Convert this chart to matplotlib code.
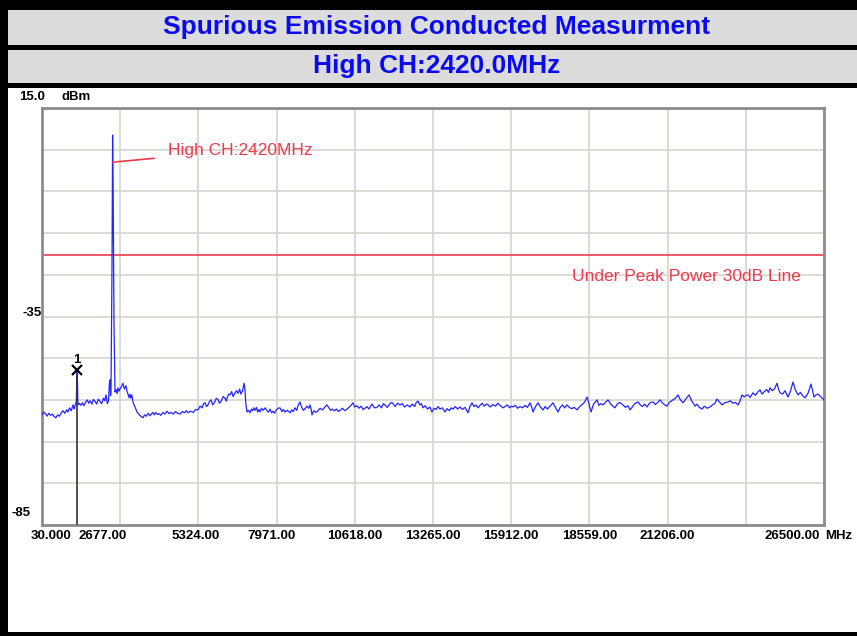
import matplotlib.pyplot as plt
from matplotlib.patches import Rectangle

W, H = 857, 636

# spectrum trace: (MHz, dBm)
trace_points = [
    (30, -58.6), (90, -57.9), (150, -58.3), (200, -58.9), (260, -58.2), (320, -58.7), (380, -58.4),
    (440, -59.0), (500, -59.3), (560, -58.6), (620, -58.9), (680, -58.1), (740, -57.6), (800, -58.2),
    (860, -57.4), (910, -57.9), (960, -56.9), (1020, -57.6), (1079, -56.2), (1120, -57.2),
    (1160, -56.0), (1190, -55.5), (1215, -47.8), (1235, -51.5), (1245, -56.2), (1290, -55.8),
    (1340, -56.3), (1400, -55.7), (1450, -56.4), (1500, -55.6), (1560, -55.0), (1610, -55.8),
    (1655, -55.2), (1720, -56.0), (1770, -54.9), (1824, -55.3), (1880, -56.0), (1940, -54.8),
    (1993, -55.4), (2050, -55.9), (2110, -54.6), (2150, -55.2), (2196, -53.8), (2240, -55.9),
    (2280, -55.2), (2310, -51.2), (2332, -50.2), (2350, -54.0), (2366, -52.8), (2400, -22.6),
    (2420, 8.5), (2440, -6.6), (2467, -36.6), (2501, -53.1), (2535, -52.5), (2570, -53.5),
    (2600, -52.1), (2640, -52.9), (2670, -52.4), (2720, -51.8), (2772, -51.0), (2820, -52.4),
    (2873, -51.6), (2910, -53.0), (2940, -53.6), (2975, -54.5), (3009, -53.6), (3040, -54.6),
    (3070, -53.8), (3120, -55.8), (3178, -56.7), (3240, -57.8), (3300, -58.4), (3370, -58.9),
    (3449, -59.3), (3500, -58.6), (3560, -58.9), (3620, -58.2), (3686, -58.8), (3740, -58.3),
    (3780, -58.0), (3830, -58.6), (3880, -58.0), (3940, -58.5), (3990, -58.3), (4050, -58.7),
    (4126, -58.0), (4190, -58.4), (4260, -57.7), (4330, -58.3), (4397, -58.0), (4470, -58.4),
    (4550, -57.8), (4620, -58.2), (4701, -58.4), (4780, -57.8), (4850, -58.1), (4910, -57.6),
    (4972, -58.1), (5050, -57.7), (5150, -58.0), (5230, -57.3), (5311, -57.4), (5380, -56.5),
    (5450, -56.9), (5500, -55.9), (5548, -55.7), (5600, -56.6), (5650, -56.2), (5700, -55.4),
    (5751, -55.0), (5810, -56.2), (5870, -55.6), (5930, -54.6), (5988, -54.9), (6040, -55.8),
    (6100, -55.2), (6160, -54.2), (6225, -54.6), (6270, -55.3), (6300, -54.4), (6350, -53.6),
    (6394, -53.8), (6450, -53.0), (6500, -54.2), (6550, -53.5), (6610, -52.8), (6665, -53.4),
    (6720, -52.4), (6760, -53.6), (6820, -52.8), (6870, -51.0), (6900, -52.5), (6930, -56.0),
    (6969, -57.9), (7020, -57.5), (7071, -58.1), (7120, -57.2), (7160, -57.6), (7200, -56.9),
    (7240, -57.5), (7290, -56.8), (7330, -57.9), (7370, -57.3), (7409, -57.9), (7460, -57.0),
    (7520, -57.5), (7580, -56.9), (7646, -57.6), (7700, -57.9), (7750, -57.2), (7800, -58.1),
    (7849, -57.7), (7900, -58.2), (7960, -57.4), (8020, -57.0), (8086, -56.9), (8150, -57.8),
    (8200, -57.3), (8250, -57.9), (8330, -57.5), (8425, -58.1), (8480, -57.4), (8530, -57.8),
    (8594, -56.9), (8650, -57.5), (8700, -56.3), (8763, -55.5), (8820, -56.8), (8880, -57.5),
    (8933, -57.1), (9000, -56.5), (9060, -57.0), (9102, -56.2), (9140, -57.3), (9170, -58.6),
    (9230, -57.6), (9300, -58.0), (9373, -57.6), (9440, -57.0), (9520, -57.4), (9600, -56.8),
    (9677, -56.2), (9740, -56.9), (9800, -57.5), (9847, -57.2), (9920, -57.6), (10000, -57.2),
    (10060, -57.8), (10117, -57.5), (10200, -57.0), (10280, -57.6), (10354, -57.2), (10420, -56.8),
    (10500, -56.2), (10557, -55.7), (10620, -56.7), (10693, -56.4), (10760, -57.0), (10830, -56.5),
    (10900, -57.3), (10964, -57.0), (11030, -56.6), (11100, -57.2), (11150, -56.5), (11201, -56.0),
    (11280, -56.9), (11370, -56.8), (11440, -56.2), (11520, -56.9), (11580, -55.9), (11641, -56.2),
    (11720, -56.8), (11800, -56.0), (11860, -55.6), (11911, -55.9), (11980, -56.6), (12060, -55.8),
    (12148, -56.2), (12220, -55.9), (12300, -56.7), (12390, -56.2), (12487, -56.7), (12560, -56.0),
    (12640, -56.6), (12700, -55.6), (12758, -55.3), (12820, -56.2), (12870, -55.9), (12927, -56.9),
    (13000, -56.4), (13080, -57.2), (13160, -56.7), (13232, -57.9), (13300, -57.0), (13370, -57.3),
    (13435, -56.6), (13500, -57.2), (13580, -56.9), (13672, -57.9), (13740, -57.1), (13820, -57.6),
    (13880, -56.9), (13943, -57.2), (14020, -56.6), (14100, -57.2), (14179, -56.7), (14260, -57.3),
    (14350, -56.8), (14450, -58.1), (14520, -56.5), (14586, -55.7), (14650, -56.6), (14720, -56.2),
    (14790, -56.9), (14856, -56.3), (14930, -55.8), (15000, -56.5), (15070, -56.0), (15127, -56.2),
    (15200, -56.7), (15290, -56.1), (15380, -56.5), (15466, -55.8), (15550, -56.4), (15630, -56.9),
    (15703, -56.6), (15780, -56.2), (15860, -56.9), (15920, -56.5), (15973, -56.7), (16050, -56.3),
    (16130, -57.0), (16211, -56.6), (16300, -56.9), (16380, -56.3), (16460, -56.8), (16549, -55.7),
    (16600, -56.6), (16651, -57.9), (16720, -56.8), (16820, -55.7), (16900, -56.7), (16989, -57.4),
    (17060, -56.6), (17140, -57.2), (17230, -56.5), (17328, -55.7), (17400, -56.7), (17497, -57.9),
    (17570, -56.8), (17650, -56.2), (17720, -56.9), (17802, -56.2), (17880, -56.8), (17960, -57.1),
    (18050, -56.8), (18140, -57.4), (18230, -56.6), (18330, -56.0), (18400, -55.5), (18479, -54.3),
    (18540, -55.8), (18614, -57.9), (18700, -56.0), (18760, -55.5), (18817, -55.0), (18880, -56.3),
    (18950, -55.9), (19020, -56.2), (19100, -55.6), (19189, -55.0), (19260, -55.8), (19340, -56.4),
    (19426, -56.9), (19500, -56.0), (19580, -55.6), (19697, -56.2), (19780, -56.8), (19860, -56.4),
    (19934, -57.4), (20000, -56.8), (20080, -56.0), (20140, -55.7), (20205, -55.5), (20280, -56.2),
    (20360, -56.6), (20430, -56.0), (20509, -56.7), (20580, -55.9), (20640, -55.6), (20712, -55.5),
    (20790, -56.1), (20870, -55.6), (20949, -55.0), (21030, -55.7), (21110, -56.2), (21186, -56.5),
    (21260, -55.6), (21330, -55.3), (21389, -55.0), (21470, -54.6), (21559, -53.8), (21640, -55.0),
    (21728, -55.7), (21820, -54.8), (21931, -53.8), (22020, -55.2), (22134, -56.5), (22200, -56.0),
    (22280, -56.8), (22371, -57.2), (22450, -56.5), (22540, -57.0), (22642, -56.7), (22720, -56.2),
    (22800, -55.9), (22879, -54.8), (22960, -55.5), (23048, -56.2), (23140, -55.7), (23251, -55.5),
    (23330, -55.2), (23420, -55.8), (23500, -55.6), (23590, -56.2), (23650, -55.4), (23725, -53.8),
    (23800, -54.3), (23860, -53.9), (23928, -53.8), (24000, -54.4), (24097, -53.3), (24180, -53.9),
    (24260, -53.1), (24334, -52.6), (24402, -53.6), (24480, -53.0), (24560, -52.5), (24620, -53.2),
    (24673, -52.1), (24750, -52.8), (24830, -52.3), (24910, -51.0), (24960, -52.4), (25011, -53.3),
    (25100, -53.6), (25180, -52.8), (25282, -54.3), (25360, -53.0), (25451, -50.7), (25530, -52.6),
    (25621, -53.8), (25700, -53.2), (25780, -54.0), (25858, -54.5), (25960, -53.4), (26061, -51.2),
    (26120, -53.0), (26162, -54.3), (26230, -53.8), (26298, -53.6), (26400, -54.3), (26500, -55.0),
]
freq_mhz = [p[0] for p in trace_points]
level_dbm = [p[1] for p in trace_points]

marker_freq = 1215
marker_level = -47.8
limit_level = -20.3          # under peak power 30dB line
peak_freq = 2420
peak_level = 2.0

x_ticks = [30, 2677, 5324, 7971, 10618, 13265, 15912, 18559, 21206, 23853, 26500]
x_tick_labels = ['30.000', '2677.00', '5324.00', '7971.00', '10618.00', '13265.00',
                 '15912.00', '18559.00', '21206.00', '', '26500.00']
x_label_shift = [9, -18, -3, -5, 0, 0, 0, 0, 0, 0, -32]
y_ticks = [15, 5, -5, -15, -25, -35, -45, -55, -65, -75, -85]

blue = '#0a0af0'
red = '#ee3a4c'
font = 'Liberation Sans'

fig = plt.figure(figsize=(W / 100, H / 100), dpi=100)


def px_rect(x0, y0, x1, y1, color):
    fig.add_artist(Rectangle((x0 / W, 1 - y1 / H), (x1 - x0) / W, (y1 - y0) / H,
                             transform=fig.transFigure, facecolor=color, edgecolor='none', zorder=0))


# header bands and frame
px_rect(0, 0, W, 88, 'black')
px_rect(8, 10, W, 45, '#dcdcdc')
px_rect(8, 50, W, 83, '#dcdcdc')
px_rect(0, 0, 8, H, 'black')
px_rect(0, 632, W, H, 'black')

fig.text(437 / W, 1 - 27 / H, 'Spurious Emission Conducted Measurment', ha='center', va='center',
         fontsize=19, weight='bold', color=blue, family=font)
fig.text(437 / W, 1 - 66 / H, 'High CH:2420.0MHz', ha='center', va='center',
         fontsize=19, weight='bold', color=blue, family=font)

ax = fig.add_axes([42 / W, 1 - 525 / H, 782 / W, 417 / H])
ax.set_xlim(30, 26500)
ax.set_ylim(-85, 15)
ax.set_xticks(x_ticks)
ax.set_yticks(y_ticks)
ax.set_xticklabels([])
ax.set_yticklabels([])
ax.tick_params(length=0)
ax.grid(True, color='#d6d6ce', lw=1.2)
ax.set_axisbelow(True)
for s in ax.spines.values():
    s.set_color('#8c8c8c')
    s.set_linewidth(2)

ax.plot(freq_mhz, level_dbm, color='#2424ff', lw=0.9, zorder=3)
ax.axhline(limit_level, color=red, lw=1.2, zorder=2)

# marker 1
ax.plot([marker_freq, marker_freq], [-85, marker_level - 1.5], color='#333333', lw=1.2, zorder=4)
ax.plot(marker_freq, marker_level, 'x', color='black', ms=7, mew=1.6, zorder=5)
ax.annotate('1', (marker_freq, marker_level), textcoords='offset pixels', xytext=(0, 10),
            ha='center', va='center', fontsize=9.5, weight='bold', family=font)

# peak annotation
ax.annotate('High CH:2420MHz', xy=(peak_freq, peak_level), xytext=(4295, 4.9),
            color=red, fontsize=12.5, va='center', ha='left', family=font,
            arrowprops=dict(arrowstyle='-', color=red, lw=1.2, shrinkA=8, shrinkB=0))
ax.text(17970, -25.5, 'Under Peak Power 30dB Line', color=red, fontsize=12.5, va='center',
        ha='left', family=font)

# axis labels placed the way the analyzer draws them
for xt, lab, dx in zip(x_ticks, x_tick_labels, x_label_shift):
    ax.annotate(lab, (xt, 0), xycoords=('data', 'axes fraction'), textcoords='offset pixels',
                xytext=(dx, -11), ha='center', va='center', fontsize=9.5, weight='bold',
                family=font, annotation_clip=False)
ax.annotate('MHz', (1, 0), xycoords='axes fraction', textcoords='offset pixels', xytext=(1, -11),
            ha='left', va='center', fontsize=9.5, weight='bold', family=font, annotation_clip=False)

y_labels = [('15.0', 15, 3, 11), ('-35', -35, 0, 3), ('-85', -85, -12, 12)]
for lab, yv, dx, dy in y_labels:
    ax.annotate(lab, (0, yv), xycoords=('axes fraction', 'data'), textcoords='offset pixels',
                xytext=(dx, dy), ha='right', va='center', fontsize=9.5, weight='bold',
                family=font, annotation_clip=False)
ax.annotate('dBm', (0, 15), xycoords=('axes fraction', 'data'), textcoords='offset pixels',
            xytext=(20, 11), ha='left', va='center', fontsize=9.5, weight='bold',
            family=font, annotation_clip=False)

fig.savefig('out.png', dpi=100)
